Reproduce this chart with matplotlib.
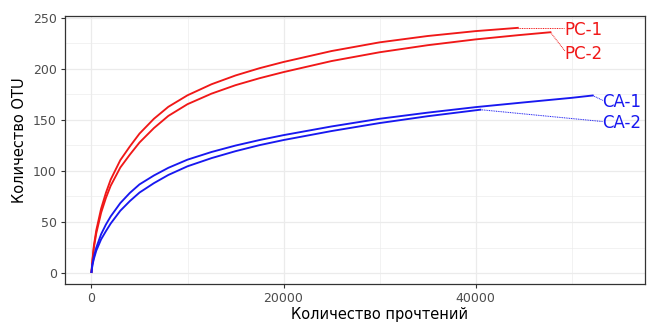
import matplotlib
matplotlib.use("Agg")
import matplotlib.pyplot as plt
from matplotlib.ticker import MultipleLocator

plt.rcParams['font.family'] = ['DejaVu Sans']

# Rarefaction curves (reads, OTU count)
pc1_reads = [0, 100, 250, 500, 1000, 1500, 2000, 3000, 4000, 5000, 6500, 8000, 10000,
             12500, 15000, 17500, 20000, 25000, 30000, 35000, 40000, 44400]
pc1_otu = [1, 13, 27, 42, 63, 78.5, 91.5, 110.5, 124, 136.5, 151, 162.7, 174,
           184.8, 193.4, 200.5, 206.6, 217.3, 225.8, 232, 236.8, 240]

pc2_reads = [0, 100, 250, 500, 1000, 1500, 2000, 3000, 4000, 5000, 6500, 8000, 10000,
             12500, 15000, 17500, 20000, 25000, 30000, 35000, 40000, 44400, 47800]
pc2_otu = [1, 12, 25, 39, 59, 73.5, 85.5, 103.3, 116, 127.8, 141.9, 153.8, 165.3,
           175.6, 183.9, 190.7, 196.7, 207.5, 216.1, 223, 228.7, 232.8, 235.7]

ca1_reads = [0, 100, 250, 500, 1000, 1500, 2000, 3000, 4000, 5000, 6500, 8000, 10000,
             12500, 15000, 17500, 20000, 25000, 30000, 35000, 40000, 45000, 50000, 52200]
ca1_otu = [1, 9, 16, 25, 38, 47.5, 55.5, 68.5, 78.5, 86.8, 95.5, 103, 111,
           118.5, 124.8, 130.2, 135, 143.5, 151, 157, 162.4, 167, 171.5, 173.8]

ca2_reads = [0, 100, 250, 500, 1000, 1500, 2000, 3000, 4000, 5000, 6500, 8000, 10000,
             12500, 15000, 17500, 20000, 25000, 30000, 35000, 40500]
ca2_otu = [1, 8, 14, 22, 33, 41, 48.5, 61, 70.5, 78.8, 88, 96, 104.5,
           112.5, 119.3, 125.2, 130.2, 139, 146.8, 153.5, 159.9]

names = ["PC-1", "PC-2", "CA-1", "CA-2"]
colors = ["#F01818", "#F01818", "#1818F0", "#1818F0"]
series = [(pc1_reads, pc1_otu), (pc2_reads, pc2_otu), (ca1_reads, ca1_otu), (ca2_reads, ca2_otu)]
# repelled label anchors (text baseline) and leader-line ends, data coords
label_pos = [(49270, 233.4), (49270, 209.7), (53230, 162.4), (53230, 142.2)]
leader_end = [(49200, 240), (49300, 217.5), (53250, 169), (53250, 148.3)]

fig = plt.figure(figsize=(6.5, 3.22), dpi=100)
ax = fig.add_axes([0.1, 0.118, 0.8923, 0.832])

for (x, y), c in zip(series, colors):
    ax.plot(x, y, color=c, lw=1.35, solid_joinstyle='round', zorder=3)

for (x, y), c, n, lp, le in zip(series, colors, names, label_pos, leader_end):
    ax.plot([x[-1], le[0]], [y[-1], le[1]], color=c, lw=0.7, ls=(0, (1, 0.8)), zorder=3)
    ax.text(lp[0], lp[1], n, color=c, fontsize=12, ha='left', va='baseline', zorder=4)

ax.set_xlim(-2760, 57650)
ax.set_ylim(-10.7, 251.5)
ax.xaxis.set_major_locator(MultipleLocator(20000))
ax.xaxis.set_minor_locator(MultipleLocator(10000))
ax.yaxis.set_major_locator(MultipleLocator(50))
ax.yaxis.set_minor_locator(MultipleLocator(25))

ax.grid(which='major', color='#EBEBEB', lw=0.9, zorder=0)
ax.grid(which='minor', color='#EBEBEB', lw=0.45, zorder=0)
ax.set_axisbelow(True)

for s in ax.spines.values():
    s.set_color('#333333')
    s.set_linewidth(0.9)

ax.tick_params(which='major', length=3, width=0.8, color='#333333',
               labelsize=9, labelcolor='#4D4D4D', pad=3)
ax.tick_params(which='minor', length=0)

ax.set_xlabel("Количество прочтений", fontsize=10.5, color='black')
ax.set_ylabel("Количество OTU", fontsize=10.5, color='black')
ax.xaxis.set_label_coords((380 - 65) / 580, (284 - 319.3) / 268, transform=ax.transAxes)
ax.xaxis.label.set_va('baseline')
ax.yaxis.set_label_coords((19.5 - 65) / 580, (284 - 140) / 268, transform=ax.transAxes)
ax.yaxis.label.set_va('center')

fig.savefig("out.png", dpi=100)
